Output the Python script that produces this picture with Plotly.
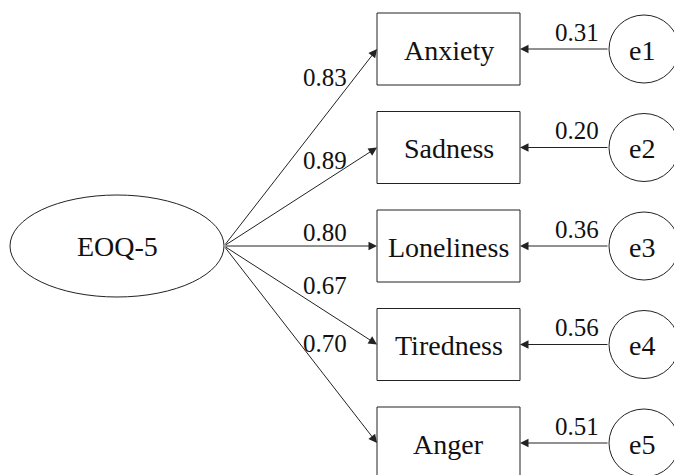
import plotly.graph_objects as go

# ---- data ----
latent = "EOQ-5"
items = ["Anxiety", "Sadness", "Loneliness", "Tiredness", "Anger"]
loadings = [0.83, 0.89, 0.80, 0.67, 0.70]
errors = ["e1", "e2", "e3", "e4", "e5"]
error_vars = [0.31, 0.20, 0.36, 0.56, 0.51]

# ---- layout geometry (pixel space) ----
W, H = 674, 475
FONT = "Liberation Serif"
LINE = "#222222"
TXT = "#111111"
box_x0, box_x1 = 377, 520
box_h = 72
y0c, dy = 49, 98.5
ell_cx, ell_cy, ell_rx, ell_ry = 117, 246, 107, 51
err_x0, err_x1, err_r = 609, 679, 34
load_lab_x = 325
load_lab_y = [77, 160, 232, 285, 343]

shapes = []
annotations = []

shapes.append(dict(type="circle", xref="x", yref="y",
                   x0=ell_cx - ell_rx, x1=ell_cx + ell_rx,
                   y0=ell_cy - ell_ry, y1=ell_cy + ell_ry,
                   line=dict(color=LINE, width=1), fillcolor="white"))
annotations.append(dict(x=ell_cx, y=ell_cy, text=latent, showarrow=False,
                        font=dict(family=FONT, size=28, color=TXT)))

for i, (name, lam, en, ev) in enumerate(zip(items, loadings, errors, error_vars)):
    yc = y0c + dy * i
    shapes.append(dict(type="rect", xref="x", yref="y",
                       x0=box_x0, x1=box_x1, y0=yc - box_h / 2, y1=yc + box_h / 2,
                       line=dict(color=LINE, width=1), fillcolor="white"))
    annotations.append(dict(x=(box_x0 + box_x1) / 2, y=yc + 1, text=name, showarrow=False,
                            font=dict(family=FONT, size=28, color=TXT)))
    annotations.append(dict(x=box_x0, y=yc, ax=ell_cx + ell_rx, ay=ell_cy,
                            xref="x", yref="y", axref="x", ayref="y",
                            text="", showarrow=True, arrowhead=2, arrowsize=1.7,
                            arrowwidth=1, arrowcolor=LINE, standoff=0, startstandoff=0))
    annotations.append(dict(x=load_lab_x, y=load_lab_y[i], text=f"{lam:.2f}", showarrow=False,
                            font=dict(family=FONT, size=25, color=TXT)))
    shapes.append(dict(type="circle", xref="x", yref="y",
                       x0=err_x0, x1=err_x1, y0=yc - err_r, y1=yc + err_r,
                       line=dict(color=LINE, width=1), fillcolor="white"))
    annotations.append(dict(x=642, y=yc + 1, text=en, showarrow=False,
                            font=dict(family=FONT, size=28, color=TXT)))
    annotations.append(dict(x=box_x1, y=yc, ax=err_x0, ay=yc,
                            xref="x", yref="y", axref="x", ayref="y",
                            text="", showarrow=True, arrowhead=2, arrowsize=1.7,
                            arrowwidth=1, arrowcolor=LINE, standoff=0, startstandoff=0))
    annotations.append(dict(x=577, y=yc - 17, text=f"{ev:.2f}", showarrow=False,
                            font=dict(family=FONT, size=25, color=TXT)))

fig = go.Figure()
fig.update_layout(
    width=W, height=H, margin=dict(l=0, r=0, t=0, b=0),
    paper_bgcolor="white", plot_bgcolor="white",
    font=dict(family=FONT),
    xaxis=dict(range=[0, W], visible=False, fixedrange=True),
    yaxis=dict(range=[H, 0], visible=False, fixedrange=True),
    shapes=shapes, annotations=annotations, showlegend=False,
)
fig.write_html("out.html", config={"displayModeBar": False},
               post_script="document.body.style.margin='0px';document.body.style.overflow='hidden';")
